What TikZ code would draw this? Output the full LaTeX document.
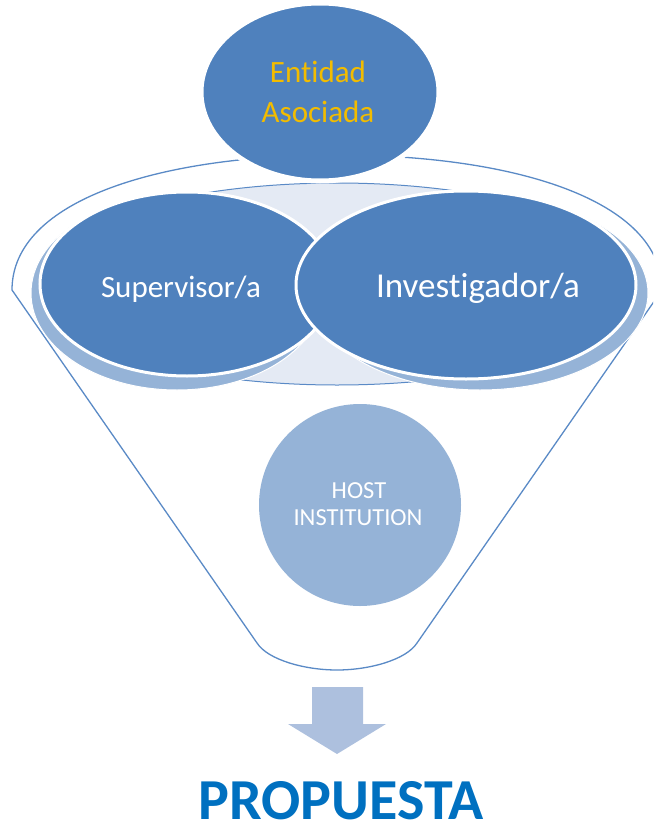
\documentclass[tikz,border=0pt]{standalone}
\usepackage{fontspec}
\setmainfont{Carlito}[Ligatures=NoCommon]
\usetikzlibrary{shapes.geometric}
\definecolor{dkblue}{HTML}{4F81BD}
\definecolor{mdblue}{HTML}{95B3D7}
\definecolor{ltblue}{HTML}{E4EAF4}
\definecolor{lineblue}{HTML}{5A8AC6}
\definecolor{arrowblue}{HTML}{ADC0DE}
\definecolor{goldtext}{HTML}{F2BC00}
\definecolor{propblue}{HTML}{0070C0}
\begin{document}
\begin{tikzpicture}[x=1pt,y=-1pt,
  oval/.style={ellipse, inner sep=0pt, outer sep=0pt},
  darkoval/.style={oval, fill=dkblue, draw=white, line width=3pt},
  shadeoval/.style={oval, fill=mdblue, draw=white, line width=1pt},
  lbl/.style={anchor=base, inner sep=0pt, text=white},
]
\useasboundingbox (0,0) rectangle (653,832);
\clip (0,0) rectangle (653,832);
% funnel outline
\draw[lineblue, line width=1.3pt, fill=white]
  (337,155) .. controls (160,155) and (12,200) .. (12,290)
  -- (257,643) .. controls (268,660) and (305,670) .. (337,670)
  .. controls (369,670) and (406,660) .. (417,643)
  -- (662,290) .. controls (662,200) and (514,155) .. (337,155) -- cycle;
% rim
\node[oval, minimum width=608, minimum height=202, fill=ltblue, draw=lineblue, line width=1pt] (rim) at (337,284) {};
% items in the rim
\node[shadeoval, minimum width=292, minimum height=194] (supsh) at (177,293) {};
\node[darkoval, minimum width=294, minimum height=184] (sup) at (187,284) {};
\node[shadeoval, minimum width=336, minimum height=194] (invsh) at (480,293) {};
\node[darkoval, minimum width=340, minimum height=188] (inv) at (466,285) {};
\node[darkoval, line width=5pt, minimum width=238, minimum height=178] (ent) at (320,92) {};
% labels
\node[lbl, font=\fontsize{31}{37}\selectfont] (suptxt) at (181,297) {Supervisor/a};
\node[lbl, font=\fontsize{35}{42}\selectfont] (invtxt) at (478,297) {Investigador/a};
\node[lbl, text=goldtext, font=\fontsize{31}{37}\selectfont] (ent1) at (318,83) {Entidad};
\node[lbl, text=goldtext, font=\fontsize{31}{37}\selectfont] (ent2) at (318,122) {Asociada};
% host circle
\node[circle, fill=mdblue, minimum size=202, inner sep=0pt] (host) at (360,505) {};
\node[lbl, font=\fontsize{24.5}{29}\selectfont] (host1) at (359,498) {HOST};
\node[lbl, font=\fontsize{24.5}{29}\selectfont] (host2) at (358,525) {INSTITUTION};
% arrow
\fill[arrowblue] (312,687) -- (363,687) -- (363,724) -- (386,724) -- (337,754) -- (288,724) -- (312,724) -- cycle;
% result
\node[lbl, text=propblue, font=\fontsize{58}{70}\selectfont\bfseries] (prop) at (341,819) {PROPUESTA};
\end{tikzpicture}
\end{document}
